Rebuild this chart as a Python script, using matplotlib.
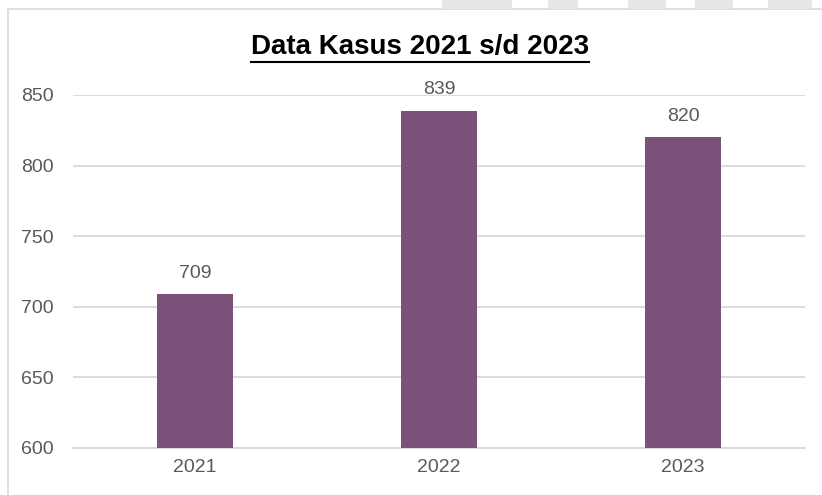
import matplotlib
matplotlib.use("Agg")
import matplotlib.pyplot as plt
from matplotlib.patches import Rectangle
from matplotlib.lines import Line2D

years = ["2021", "2022", "2023"]
cases = [709, 839, 820]
yticks = [600, 650, 700, 750, 800, 850]

bar_color = "#7b5079"
grid_color = "#d9d9d9"
text_gray = "#595959"

plt.rcParams["font.family"] = ["Liberation Sans", "DejaVu Sans"]

W, H = 822, 495
fig = plt.figure(figsize=(W / 100, H / 100), dpi=100)
fig.patch.set_facecolor("white")

# chart frame (cropped at right/bottom like the screenshot)
fig.patches.append(Rectangle((8 / W, -0.05), 1.2, 1 - 9 / H + 0.05,
                             transform=fig.transFigure, fill=False,
                             edgecolor=grid_color, lw=1.2))

# faint watermark blocks at the top edge
for x0, x1 in [(442, 512), (548, 578), (628, 666), (695, 733), (768, 812)]:
    fig.patches.append(Rectangle((x0 / W, 1 - 9 / H), (x1 - x0) / W, 9 / H,
                                 transform=fig.transFigure,
                                 facecolor="#e6e8e5", edgecolor="none"))

ax = fig.add_axes([73 / W, 47 / H, (805 - 73) / W, (448 - 95) / H])
x = list(range(len(years)))
bars = ax.bar(x, cases, width=0.31, color=bar_color, zorder=3)

ax.set_xlim(-0.5, 2.5)
ax.set_ylim(600, 850)
ax.set_yticks(yticks)
ax.set_xticks(x)
ax.set_xticklabels(years)
ax.yaxis.grid(True, color=grid_color, lw=1.3, zorder=0)
ax.set_axisbelow(True)
for s in ax.spines.values():
    s.set_visible(False)
ax.spines["bottom"].set_visible(True)
ax.spines["bottom"].set_color(grid_color)
ax.spines["bottom"].set_linewidth(1.3)
ax.tick_params(axis="both", length=0, labelsize=14, colors=text_gray)
ax.tick_params(axis="y", pad=14)
ax.tick_params(axis="x", pad=8)

for b, v in zip(bars, cases):
    ax.annotate(str(v), (b.get_x() + b.get_width() / 2, v),
                xytext=(0, 9), textcoords="offset points",
                ha="center", va="bottom", fontsize=14, color=text_gray)

title = fig.text(420 / W, 1 - 47 / H, "Data Kasus 2021 s/d 2023",
                 ha="center", va="center", fontsize=20, fontweight="bold",
                 color="black")

# underline the title
fig.canvas.draw()
bb = title.get_window_extent().transformed(fig.transFigure.inverted())
uy = bb.y0 - 2 / H
fig.add_artist(Line2D([bb.x0, bb.x1], [uy, uy], transform=fig.transFigure,
                      color="black", lw=1.5))

fig.savefig("out.png", dpi=100)
